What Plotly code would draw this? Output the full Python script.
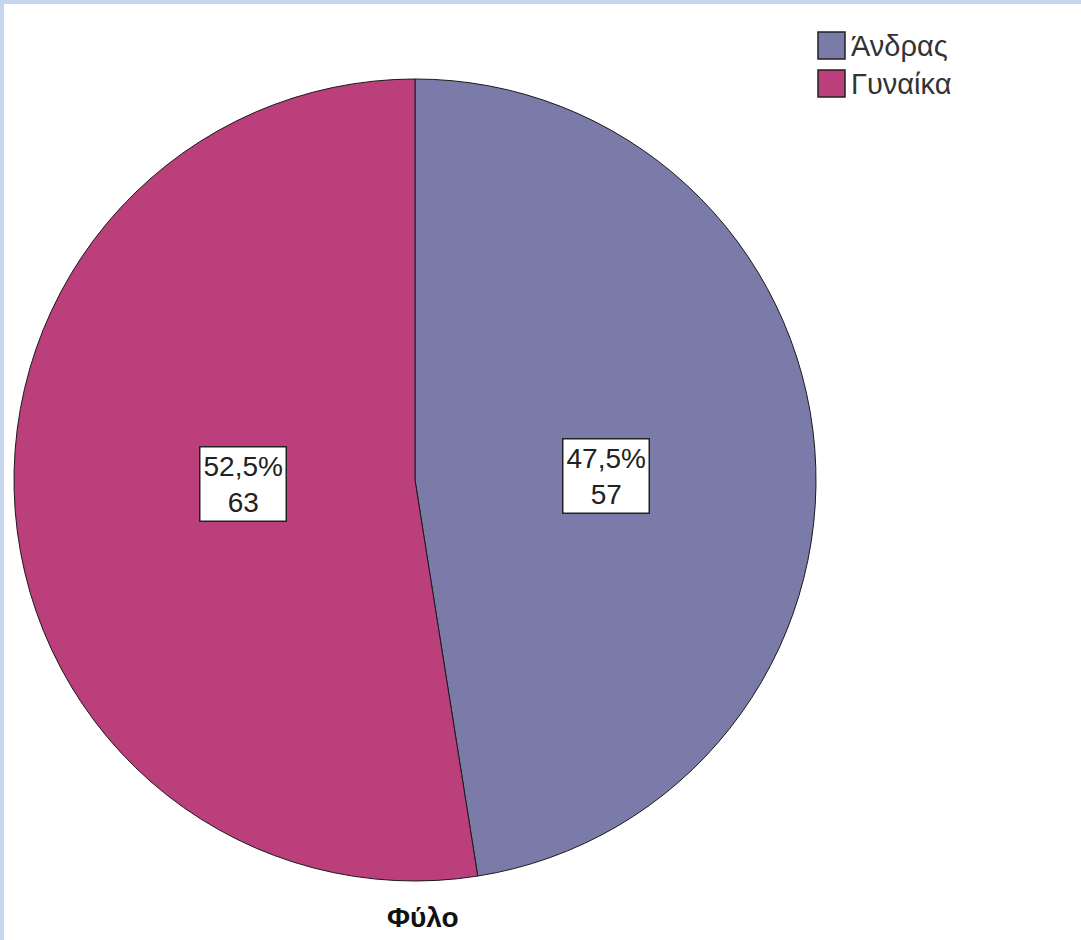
import math
import plotly.graph_objects as go

# ---- data ----
labels = ["Άνδρας", "Γυναίκα"]
counts = [57, 63]
colors = ["#7A7BA9", "#BA3F7B"]
title_text = "Φύλο"

W, H = 1081, 940
FONT = "Liberation Sans, Arial, sans-serif"

# pie geometry (pixels)
cx, cy, R = 415, 480, 401

fig = go.Figure()
fig.add_trace(go.Pie(
    labels=labels,
    values=counts,
    sort=False,
    direction="clockwise",
    rotation=0,
    marker=dict(colors=colors, line=dict(color="#1a1a1a", width=1)),
    textinfo="none",
    hoverinfo="label+value+percent",
    showlegend=False,
    domain=dict(x=[(cx - R) / W, (cx + R) / W], y=[1 - (cy + R) / H, 1 - (cy - R) / H]),
))

total = sum(counts)
annotations = []
shapes = []

# slice labels (boxed), positioned at scaled slice centroid
start = 0.0
for lab, v in zip(labels, counts):
    frac = v / total
    span = 2 * math.pi * frac
    mid = start + span / 2
    half = span / 2
    d = 2 * R * math.sin(half) / (3 * half) * 1.07
    px = cx + d * math.sin(mid)
    py = cy - d * math.cos(mid) * 0.3
    pct = f"{frac * 100:.1f}".replace(".", ",") + "%"
    annotations.append(dict(
        x=px / W, y=1 - py / H, xref="paper", yref="paper",
        text=f"{pct}<br>{v}", showarrow=False,
        font=dict(family=FONT, size=28, color="#222222"),
        bgcolor="white", bordercolor="#222222", borderwidth=1.5, borderpad=3,
        align="center", xanchor="center", yanchor="middle",
    ))
    start += span

# custom legend
lx0, ly0, sq, step = 818, 32, 27, 38
for i, (lab, col) in enumerate(zip(labels, colors)):
    y0 = ly0 + i * step
    shapes.append(dict(type="rect", xref="paper", yref="paper",
                       x0=lx0 / W, x1=(lx0 + sq) / W,
                       y0=1 - (y0 + sq) / H, y1=1 - y0 / H,
                       fillcolor=col, line=dict(color="#222222", width=1.5)))
    annotations.append(dict(x=(lx0 + sq + 4) / W, y=1 - (y0 + sq / 2) / H,
                            xref="paper", yref="paper", text=lab, showarrow=False,
                            xanchor="left", yanchor="middle",
                            font=dict(family=FONT, size=29, color="#333333")))

# title at bottom
annotations.append(dict(x=423 / W, y=1 - 917 / H, xref="paper", yref="paper",
                        text=f"<b>{title_text}</b>", showarrow=False,
                        xanchor="center", yanchor="middle",
                        font=dict(family=FONT, size=28, color="#111111")))

# light blue frame (top and left edges)
shapes.append(dict(type="rect", xref="paper", yref="paper", x0=0, x1=1, y0=1 - 4 / H, y1=1,
                   fillcolor="#C6D6EE", line=dict(width=0), layer="above"))
shapes.append(dict(type="rect", xref="paper", yref="paper", x0=0, x1=4 / W, y0=0, y1=1,
                   fillcolor="#C6D6EE", line=dict(width=0), layer="above"))

fig.update_layout(
    width=W, height=H,
    margin=dict(l=0, r=0, t=0, b=0),
    paper_bgcolor="white",
    plot_bgcolor="white",
    annotations=annotations,
    shapes=shapes,
)

fig.write_html("out.html", config={"displayModeBar": False})

# remove default page margin so the figure sits at the window origin
with open("out.html", "r", encoding="utf-8") as f:
    html = f.read()
html = html.replace("<head>", "<head><style>html,body{margin:0;padding:0;overflow:hidden;}</style>", 1)
with open("out.html", "w", encoding="utf-8") as f:
    f.write(html)
